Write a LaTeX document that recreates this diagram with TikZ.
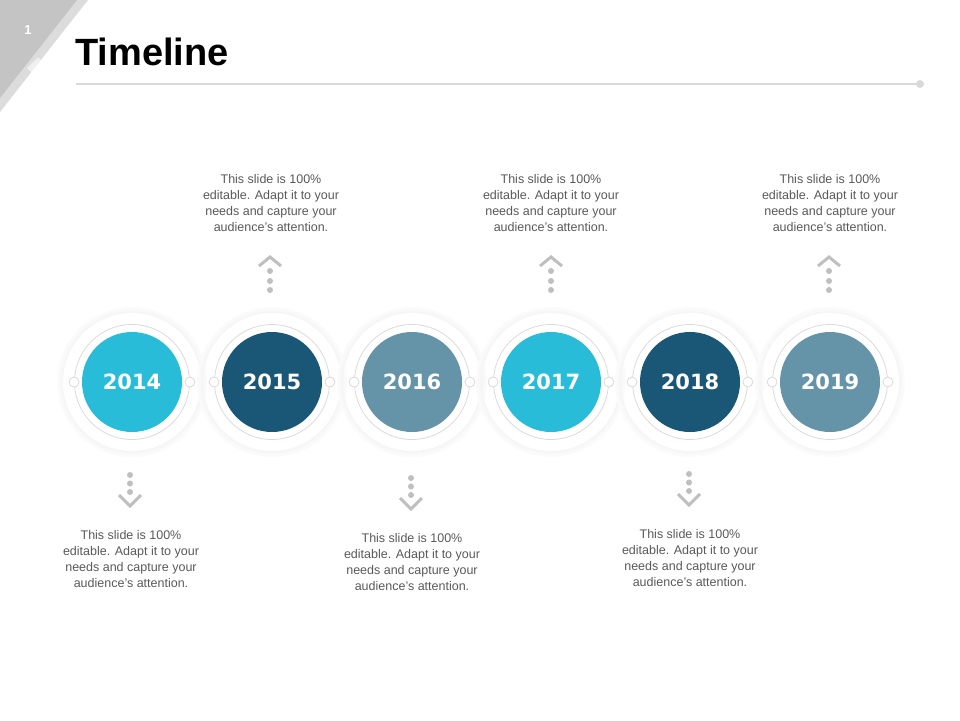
\documentclass[tikz,border=0pt]{standalone}
\usepackage{fontspec}
\setmainfont{Liberation Sans}
\newfontfamily\yearfont{DejaVu Sans}
\usetikzlibrary{positioning}
\definecolor{yearcyan}{HTML}{29BCD9}
\definecolor{yeardark}{HTML}{1A5675}
\definecolor{yearsteel}{HTML}{6593A8}
\definecolor{bodygray}{HTML}{595959}
\definecolor{arrowgray}{HTML}{BFBFBF}
\definecolor{ringgray}{HTML}{DFD8D8}
\definecolor{rulegray}{HTML}{D9D9D9}
\definecolor{cornergray}{HTML}{C4C4C4}
\definecolor{cornerlight}{HTML}{DCDCDC}

\begin{document}
\begin{tikzpicture}[x=1pt,y=-1pt,
 year/.style={circle,minimum size=100pt,inner sep=0pt,text=white,
  font=\yearfont\bfseries\fontsize{21}{24}\selectfont},
 ring/.style={circle,draw=ringgray,line width=.8pt,minimum size=115pt,inner sep=0pt},
 knob/.style={circle,draw=ringgray,fill=white,line width=.8pt,minimum size=10pt,inner sep=0pt},
 blurb/.style={align=center,text=bodygray,font=\fontsize{12.5}{16}\selectfont},
 chev/.style={draw=arrowgray,line width=3pt},
 tile/.style={fill=white,fill opacity=.55}]
\useasboundingbox (0,0) rectangle (960,720);

% corner
\fill[cornerlight] (0,0) -- (88,0) -- (0,112) -- cycle;
\fill[cornergray] (0,0) -- (77,0) -- (0,98) -- cycle;
\foreach \x/\y/\s in {70/30/6,58/55/9,38/68/11,46/88/7,22/95/6}
  \fill[tile] (\x-\s,\y) -- (\x,\y-\s) -- (\x+\s,\y) -- (\x,\y+\s) -- cycle;
\node[text=white,font=\bfseries\fontsize{13}{14}\selectfont] (page) at (28,30) {1};

% title
\node[anchor=base west,inner sep=0pt,font=\bfseries\fontsize{38}{40}\selectfont] (title) at (75,65) {Timeline};
\coordinate (ruleL) at (76,84);
\coordinate (ruleR) at (920,84);
\draw[rulegray,line width=1.5pt] (ruleL) -- (ruleR);
\fill[rulegray] (ruleR) circle (4pt);

% years
\foreach \yr/\x/\col in {2014/132/yearcyan,2015/272/yeardark,2016/412/yearsteel,
  2017/551/yearcyan,2018/690/yeardark,2019/830/yearsteel}{
  \foreach \r/\c in {74/1.5,72/2.5,70/3.5}
    \draw[black!\c,line width=2pt] (\x,382) circle (\r pt);
  \node[ring] (r\yr) at (\x,382) {};
  \node[year,fill=\col] (y\yr) at (\x,382) {\yr};
  \node[knob] (kl\yr) at (r\yr.west) {};
  \node[knob] (kr\yr) at (r\yr.east) {};
}

% texts
\foreach \yr/\x/\y in {2015/271/203,2017/551/203,2019/830/203,
  2014/131/559,2016/412/562,2018/690/558}
  \node[blurb] (t\yr) at (\x,\y) {This slide is 100\%\\editable. Adapt it to your\\
   needs and capture your\\audience's attention.};

% arrows up
\foreach \x in {270,551,829}{
  \draw[chev] (\x-11,266) -- (\x,257) -- (\x+11,266);
  \foreach \y in {271,281,290}
    \fill[arrowgray] (\x,\y) circle (3pt);
}
% arrows down
\foreach \x/\t in {130/475,411/478,689/474}{
  \foreach \d in {0,8.5,17}
    \fill[arrowgray] (\x,\t+\d) circle (3pt);
  \draw[chev] (\x-11,\t+20) -- (\x,\t+31) -- (\x+11,\t+20);
}
\end{tikzpicture}
\end{document}
